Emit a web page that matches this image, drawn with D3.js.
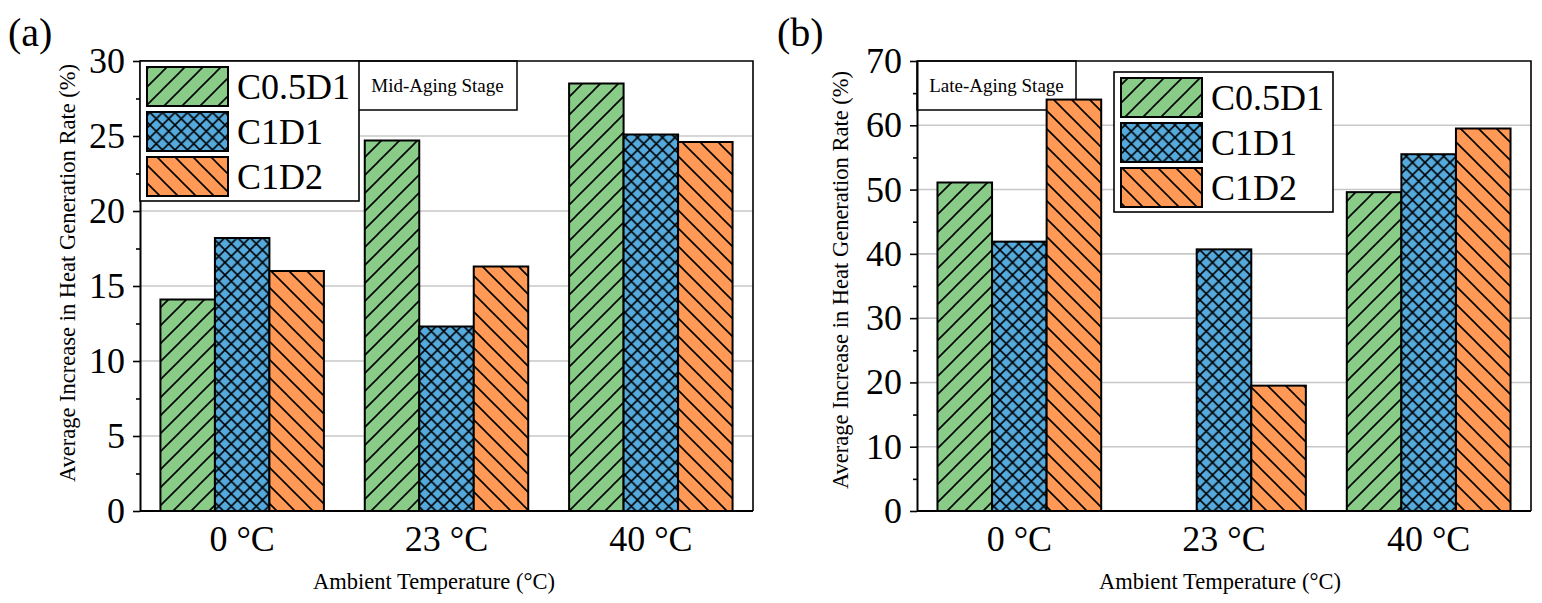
<!DOCTYPE html>
<html lang="en">
<head>
<meta charset="UTF-8">
<title>Average Increase in Heat Generation Rate</title>
<script src="https://d3js.org/d3.v7.min.js"></script>
<style>
    body { margin: 0; background: #fff; }
    svg { display: block; font-family: "Liberation Serif", "Times New Roman", serif; }
</style>
</head>
<body>
<svg id="chart" width="1542" height="603"></svg>
<script>
    // data
    const categories = ["0 °C", "23 °C", "40 °C"];
    const seriesNames = ["C0.5D1", "C1D1", "C1D2"];

    const midC05D1 = [14.1, 24.7, 28.5];
    const midC1D1 = [18.2, 12.3, 25.1];
    const midC1D2 = [16.0, 16.3, 24.6];

    const lateC05D1 = [51.1, null, 49.6];
    const lateC1D1 = [41.9, 40.7, 55.5];
    const lateC1D2 = [64.0, 19.5, 59.5];

    const midTicks = [0, 5, 10, 15, 20, 25, 30];
    const lateTicks = [0, 10, 20, 30, 40, 50, 60, 70];

    const colors = ["#88cc88", "#55aadd", "#ff9955"];
    const hatches = ["fwd", "cross", "back"];

    const svg = d3.select("#chart");
    const defs = svg.append("defs");

    // hatch patterns
    function hatchPath(kind, p) {
        const fwd = `M0,${p} L${p},0 M${-p/4},${p/4} L${p/4},${-p/4} M${p*3/4},${p*5/4} L${p*5/4},${p*3/4}`;
        const back = `M0,0 L${p},${p} M${-p/4},${p*3/4} L${p/4},${p*5/4} M${p*3/4},${-p/4} L${p*5/4},${p/4}`;
        if (kind === "fwd") return fwd;
        if (kind === "back") return back;
        return fwd + " " + back;
    }
    seriesNames.forEach((s, i) => {
        const p = hatches[i] === "cross" ? 12.5 : 18;
        const pat = defs.append("pattern")
            .attr("id", "pat" + i)
            .attr("patternUnits", "userSpaceOnUse")
            .attr("width", p).attr("height", p);
        pat.append("rect").attr("width", p).attr("height", p).attr("fill", colors[i]);
        pat.append("path").attr("d", hatchPath(hatches[i], p))
            .attr("stroke", "#000").attr("stroke-width", 1.6).attr("fill", "none");
    });

    function drawPanel(opt) {
        const g = svg.append("g");
        const x = d3.scaleBand().domain(categories)
            .range([opt.left, opt.right]).paddingInner(0.2).paddingOuter(0.1);
        const xs = d3.scaleBand().domain(seriesNames).range([0, x.bandwidth()]);
        const y = d3.scaleLinear().domain([0, opt.max]).range([opt.bottom, opt.top]);

        // grid
        g.selectAll(".grid").data(opt.ticks.filter(t => t > 0 && t < opt.max))
            .enter().append("line")
            .attr("x1", opt.left).attr("x2", opt.right)
            .attr("y1", d => y(d)).attr("y2", d => y(d))
            .attr("stroke", "#c8c8c8").attr("stroke-width", 1.6);

        // stage note box
        const note = g.append("g");
        note.append("rect")
            .attr("x", opt.noteX).attr("y", opt.top)
            .attr("width", opt.noteW).attr("height", 49)
            .attr("fill", "#fff").attr("stroke", "#000").attr("stroke-width", 1.5);
        note.append("text")
            .attr("x", opt.noteX + opt.noteW / 2).attr("y", opt.top + 31)
            .attr("text-anchor", "middle").attr("font-size", 19)
            .text(opt.note);

        // bars
        const rows = [];
        categories.forEach((c, ci) => {
            opt.values.forEach((arr, si) => {
                if (arr[ci] != null) rows.push({ c, s: seriesNames[si], si, v: arr[ci] });
            });
        });
        g.selectAll(".bar").data(rows).enter().append("rect")
            .attr("x", d => x(d.c) + xs(d.s))
            .attr("y", d => y(d.v))
            .attr("width", xs.bandwidth())
            .attr("height", d => y(0) - y(d.v))
            .attr("fill", d => `url(#pat${d.si})`)
            .attr("stroke", "#000").attr("stroke-width", 2);

        // frame
        g.append("path")
            .attr("d", `M${opt.left},${opt.top} H${opt.right} V${opt.bottom}`)
            .attr("fill", "none").attr("stroke", "#000").attr("stroke-width", 1.6);

        // left axis with minor ticks
        const minor = [];
        for (let i = 0; i < opt.ticks.length - 1; i++) minor.push((opt.ticks[i] + opt.ticks[i + 1]) / 2);
        g.append("g").attr("transform", `translate(${opt.left},0)`)
            .call(d3.axisLeft(y).tickValues(minor).tickSize(4).tickFormat(""))
            .call(a => a.select(".domain").remove())
            .selectAll("line").attr("stroke-width", 1.6);
        const ay = g.append("g").attr("transform", `translate(${opt.left},0)`)
            .call(d3.axisLeft(y).tickValues(opt.ticks).tickSize(7).tickSizeOuter(0).tickPadding(8));
        ay.select(".domain").attr("stroke-width", 2);
        ay.selectAll("line").attr("stroke-width", 1.6);
        ay.selectAll("text").attr("font-size", 36).attr("font-family", "Liberation Serif").attr("fill", "#000");

        // bottom axis
        const ax = g.append("g").attr("transform", `translate(0,${opt.bottom})`)
            .call(d3.axisBottom(x).tickSize(0).tickPadding(14));
        ax.select(".domain").attr("stroke-width", 2).attr("d", `M${opt.left},0H${opt.right}`);
        ax.selectAll("text").attr("font-size", 36).attr("font-family", "Liberation Serif").attr("fill", "#000");

        // axis titles
        g.append("text")
            .attr("x", opt.xTitleX).attr("y", 589)
            .attr("text-anchor", "middle").attr("font-size", 22.5)
            .text("Ambient Temperature (°C)");
        g.append("text")
            .attr("transform", `translate(${opt.yTitleX},${opt.yTitleY}) rotate(-90)`)
            .attr("text-anchor", "middle").attr("font-size", 22.5)
            .text("Average Increase in Heat Generation Rate (%)");

        // panel label
        g.append("text").attr("x", opt.labelX).attr("y", 46)
            .attr("font-size", 40).text(opt.label);

        // legend
        const lg = g.append("g");
        lg.append("rect")
            .attr("x", opt.legX).attr("y", opt.legY)
            .attr("width", 219).attr("height", 140)
            .attr("fill", "#fff").attr("stroke", "#000").attr("stroke-width", 1.6);
        seriesNames.forEach((s, i) => {
            const ry = opt.legY + 6 + i * 45;
            lg.append("rect")
                .attr("x", opt.legX + 7).attr("y", ry)
                .attr("width", 81).attr("height", 39)
                .attr("fill", `url(#pat${i})`)
                .attr("stroke", "#000").attr("stroke-width", 2);
            lg.append("text")
                .attr("x", opt.legX + 97).attr("y", ry + 32)
                .attr("font-size", 36).text(s);
        });
    }

    drawPanel({
        left: 140, right: 753, top: 61, bottom: 511, max: 30,
        ticks: midTicks, values: [midC05D1, midC1D1, midC1D2],
        note: "Mid-Aging Stage", noteX: 358, noteW: 159,
        legX: 140, legY: 61,
        xTitleX: 434, yTitleX: 75, yTitleY: 273,
        label: "(a)", labelX: 8
    });
    drawPanel({
        left: 917, right: 1531, top: 61, bottom: 511, max: 70,
        ticks: lateTicks, values: [lateC05D1, lateC1D1, lateC1D2],
        note: "Late-Aging Stage", noteX: 917, noteW: 159,
        legX: 1114, legY: 72,
        xTitleX: 1220, yTitleX: 848, yTitleY: 280,
        label: "(b)", labelX: 777
    });
</script>
</body>
</html>
